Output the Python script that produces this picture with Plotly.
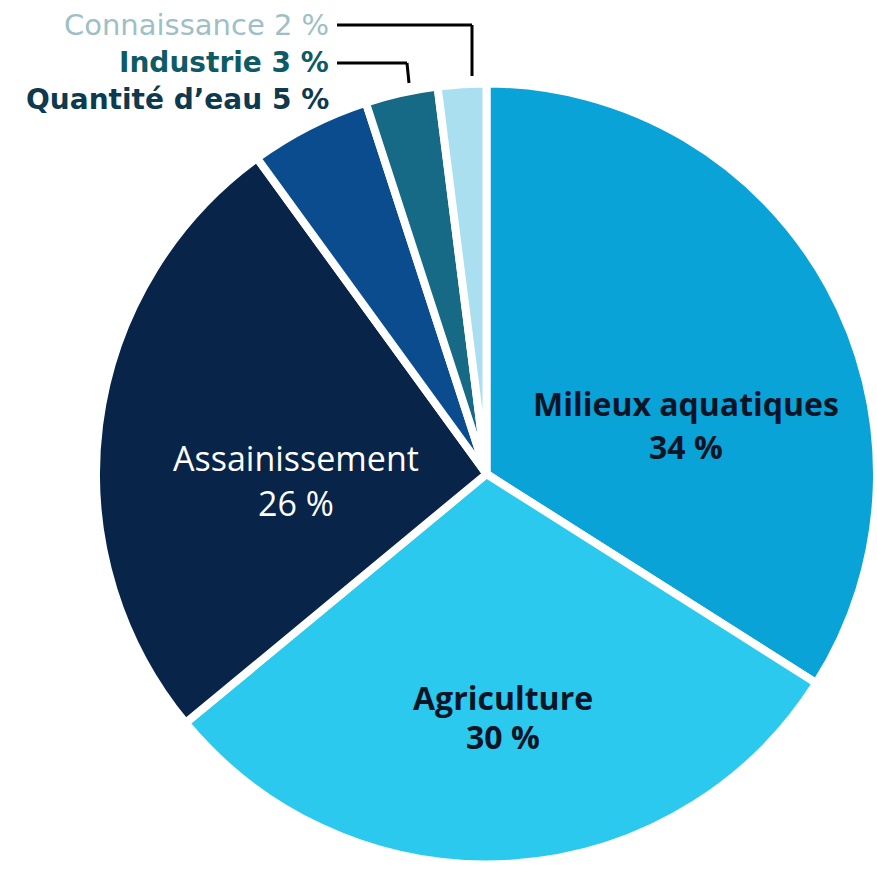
import plotly.graph_objects as go

labels = ["Milieux aquatiques", "Agriculture", "Assainissement", "Quantité d’eau", "Industrie", "Connaissance"]
values = [34, 30, 26, 5, 3, 2]
colors = ["#0AA3D8", "#2CC9EF", "#082448", "#0A4C8E", "#166A85", "#A9DFEE"]

W, H = 877, 876

fig = go.Figure(go.Pie(
    labels=labels, values=values, sort=False, direction="clockwise", rotation=0,
    marker=dict(colors=colors, line=dict(color="white", width=8)),
    textinfo="none", textposition="none", hoverinfo="label+value", showlegend=False,
    domain=dict(x=[96 / W, 1.0], y=[1 - 867 / H, 1 - 81 / H]),
))

def px(x):
    return x / W

def py(y):
    return 1 - y / H

# inside labels: (index, center x px, first line y px, second line y px, color, weight, size)
inside = [
    (0, 686, 403, 446, "#0B1526", 700, 32),
    (1, 503, 697, 736, "#0B1526", 700, 32),
    (2, 296, 458, 503, "#FFFFFF", 400, 34),
]
ann = []
for i, cx, y1, y2, col, wt, sz in inside:
    ann.append(dict(x=px(cx), y=py(y1), xref="paper", yref="paper", text=labels[i], showarrow=False,
                    xanchor="center", yanchor="middle",
                    font=dict(family="Open Sans", size=sz, color=col, weight=wt)))
    ann.append(dict(x=px(cx), y=py(y2), xref="paper", yref="paper", text=f"{values[i]} %", showarrow=False,
                    xanchor="center", yanchor="middle",
                    font=dict(family="Open Sans", size=sz, color=col, weight=wt)))

# outside labels
outside = [
    (5, 25, "#9DBFC7", 400, 29),
    (4, 63, "#0E5A66", 700, 28),
    (3, 100, "#0E3A50", 700, 28),
]
for i, y, col, wt, sz in outside:
    ann.append(dict(x=px(331), y=py(y), xref="paper", yref="paper", text=f"{labels[i]} {values[i]} %",
                    showarrow=False, xanchor="right", yanchor="middle",
                    font=dict(family="DejaVu Sans", size=sz, color=col, weight=wt)))

shapes = []
for (x0, y0, x1, y1) in [(337, 25, 472, 25), (472, 25, 472, 76), (337, 63, 407, 63), (407, 63, 409, 83)]:
    shapes.append(dict(type="line", xref="paper", yref="paper", x0=px(x0), y0=py(y0), x1=px(x1), y1=py(y1),
                       line=dict(color="black", width=3)))

fig.update_layout(width=W, height=H, margin=dict(l=0, r=0, t=0, b=0),
                  paper_bgcolor="white", plot_bgcolor="white",
                  annotations=ann, shapes=shapes)

fig.write_html("out.html", config={"displayModeBar": False},
               post_script="document.body.style.margin='0';document.body.style.padding='0';")
